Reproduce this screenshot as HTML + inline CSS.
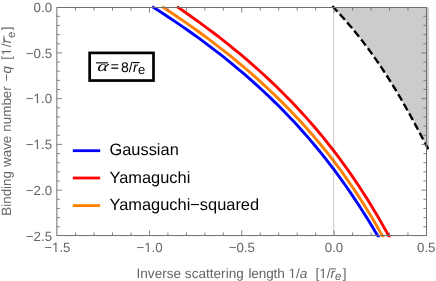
<!DOCTYPE html>
<html><head><meta charset="utf-8"><style>
html,body{margin:0;padding:0;background:#fff;}
svg{display:block;text-rendering:geometricPrecision;font-family:"Liberation Sans",sans-serif;}
</style></head><body>
<svg width="436" height="281" viewBox="0 0 436 281">
<rect width="436" height="281" fill="#fff"></rect>
<g opacity="0.999" style="will-change:transform">
<clipPath id="cf"><rect x="0" y="0" width="428.9" height="281"></rect></clipPath>
<path d="M333.65,7.50 L336.07,10.08 L338.46,12.67 L340.81,15.25 L343.12,17.84 L345.40,20.42 L347.65,23.01 L349.85,25.59 L352.03,28.18 L354.17,30.76 L356.28,33.35 L358.36,35.93 L360.40,38.52 L362.42,41.10 L364.40,43.69 L366.36,46.27 L368.29,48.86 L370.19,51.44 L372.06,54.03 L373.91,56.61 L375.73,59.19 L377.53,61.78 L379.30,64.36 L381.05,66.95 L382.77,69.53 L384.48,72.12 L386.16,74.70 L387.82,77.29 L389.46,79.87 L391.08,82.46 L392.68,85.04 L394.26,87.63 L395.83,90.21 L397.38,92.80 L398.91,95.38 L400.42,97.97 L401.92,100.55 L403.41,103.14 L404.89,105.72 L406.35,108.31 L407.79,110.89 L409.23,113.47 L410.66,116.06 L412.07,118.64 L413.48,121.23 L414.88,123.81 L416.26,126.40 L417.65,128.98 L419.02,131.57 L420.39,134.15 L421.75,136.74 L423.11,139.32 L424.46,141.91 L425.81,144.49 L427.16,147.08 L428.50,149.66 L429.85,152.25 L431.19,154.83 L432.53,157.42 L433.88,160.00 L432.50,160 L432.50,7.50 Z" fill="#cccccc" clip-path="url(#cf)"></path>
<clipPath id="cc"><rect x="0" y="0" width="436" height="237.35"></rect></clipPath>
<g fill="none" stroke-width="2.9" clip-path="url(#cc)">
<path d="M152.22,6.60 L158.41,10.55 L164.49,14.50 L170.47,18.44 L176.34,22.39 L182.11,26.34 L187.78,30.29 L193.34,34.24 L198.81,38.19 L204.18,42.13 L209.46,46.08 L214.64,50.03 L219.72,53.98 L224.72,57.93 L229.62,61.88 L234.44,65.82 L239.17,69.77 L243.81,73.72 L248.37,77.67 L252.84,81.62 L257.24,85.57 L261.55,89.51 L265.78,93.46 L269.94,97.41 L274.02,101.36 L278.02,105.31 L281.96,109.26 L285.82,113.20 L289.61,117.15 L293.33,121.10 L296.98,125.05 L300.57,129.00 L304.09,132.95 L307.55,136.89 L310.95,140.84 L314.28,144.79 L317.56,148.74 L320.78,152.69 L323.94,156.64 L327.05,160.58 L330.11,164.53 L333.11,168.48 L336.07,172.43 L338.97,176.38 L341.83,180.33 L344.64,184.27 L347.40,188.22 L350.12,192.17 L352.80,196.12 L355.44,200.07 L358.04,204.02 L360.61,207.96 L363.13,211.91 L365.62,215.86 L368.08,219.81 L370.51,223.76 L372.90,227.71 L375.27,231.65 L377.61,235.60 L379.92,239.55" stroke="#0000ff"></path>
<path d="M176.89,6.60 L182.66,10.55 L188.34,14.50 L193.93,18.44 L199.42,22.39 L204.81,26.34 L210.11,30.29 L215.32,34.24 L220.44,38.19 L225.47,42.13 L230.42,46.08 L235.27,50.03 L240.04,53.98 L244.73,57.93 L249.33,61.88 L253.86,65.82 L258.30,69.77 L262.66,73.72 L266.94,77.67 L271.15,81.62 L275.28,85.57 L279.34,89.51 L283.33,93.46 L287.24,97.41 L291.08,101.36 L294.86,105.31 L298.56,109.26 L302.20,113.20 L305.77,117.15 L309.28,121.10 L312.73,125.05 L316.11,129.00 L319.43,132.95 L322.70,136.89 L325.90,140.84 L329.05,144.79 L332.14,148.74 L335.18,152.69 L338.17,156.64 L341.10,160.58 L343.98,164.53 L346.81,168.48 L349.60,172.43 L352.33,176.38 L355.03,180.33 L357.67,184.27 L360.28,188.22 L362.84,192.17 L365.36,196.12 L367.84,200.07 L370.28,204.02 L372.69,207.96 L375.06,211.91 L377.39,215.86 L379.69,219.81 L381.96,223.76 L384.20,227.71 L386.41,231.65 L388.59,235.60 L390.74,239.55" stroke="#ff0000"></path>
<path d="M162.03,6.60 L168.05,10.55 L173.96,14.50 L179.78,18.44 L185.50,22.39 L191.12,26.34 L196.65,30.29 L202.08,34.24 L207.42,38.19 L212.67,42.13 L217.83,46.08 L222.90,50.03 L227.88,53.98 L232.77,57.93 L237.57,61.88 L242.30,65.82 L246.93,69.77 L251.49,73.72 L255.97,77.67 L260.36,81.62 L264.68,85.57 L268.92,89.51 L273.08,93.46 L277.17,97.41 L281.18,101.36 L285.12,105.31 L288.99,109.26 L292.79,113.20 L296.52,117.15 L300.18,121.10 L303.78,125.05 L307.31,129.00 L310.77,132.95 L314.18,136.89 L317.52,140.84 L320.80,144.79 L324.02,148.74 L327.18,152.69 L330.29,156.64 L333.34,160.58 L336.33,164.53 L339.27,168.48 L342.16,172.43 L345.00,176.38 L347.79,180.33 L350.53,184.27 L353.22,188.22 L355.87,192.17 L358.47,196.12 L361.03,200.07 L363.54,204.02 L366.02,207.96 L368.45,211.91 L370.84,215.86 L373.20,219.81 L375.52,223.76 L377.80,227.71 L380.05,231.65 L382.27,235.60 L384.46,239.55" stroke="#ff8000"></path>
</g>
<line x1="333.65" y1="7.50" x2="333.65" y2="235.55" stroke="#000" stroke-opacity="0.17" stroke-width="1.3"></line>
<path d="M332.32,6.10 L333.55,7.39 L334.77,8.69 L335.98,9.98 L337.18,11.27 L338.37,12.57 L339.55,13.86 L340.72,15.15 L341.88,16.45 L343.04,17.74 L344.18,19.03 L345.32,20.33 L346.44,21.62 L347.56,22.91 L348.67,24.21 L349.77,25.50 L350.87,26.79 L351.95,28.09 L353.03,29.38 L354.10,30.67 L355.16,31.97 L356.21,33.26 L357.25,34.55 L358.29,35.85 L359.32,37.14 L360.34,38.43 L361.35,39.73 L362.35,41.02 L363.35,42.31 L364.34,43.61 L365.33,44.90 L366.30,46.19 L367.27,47.48 L368.23,48.78 L369.19,50.07 L370.13,51.36 L371.08,52.66 L372.01,53.95 L372.94,55.24 L373.86,56.54 L374.77,57.83 L375.68,59.12 L376.58,60.42 L377.48,61.71 L378.37,63.00 L379.25,64.30 L380.13,65.59 L381.00,66.88 L381.87,68.18 L382.73,69.47 L383.59,70.76 L384.44,72.06 L385.28,73.35 L386.12,74.64 L386.95,75.94 L387.78,77.23 L388.60,78.52 L389.42,79.82 L390.24,81.11 L391.04,82.40 L391.85,83.70 L392.65,84.99 L393.44,86.28 L394.23,87.58 L395.02,88.87 L395.80,90.16 L396.57,91.46 L397.35,92.75 L398.12,94.04 L398.88,95.34 L399.64,96.63 L400.40,97.92 L401.15,99.22 L401.90,100.51 L402.65,101.80 L403.39,103.10 L404.13,104.39 L404.86,105.68 L405.60,106.98 L406.33,108.27 L407.05,109.56 L407.77,110.86 L408.50,112.15 L409.21,113.44 L409.93,114.74 L410.64,116.03 L411.35,117.32 L412.06,118.62 L412.76,119.91 L413.46,121.20 L414.16,122.49 L414.86,123.79 L415.56,125.08 L416.25,126.37 L416.94,127.67 L417.63,128.96 L418.32,130.25 L419.01,131.55 L419.69,132.84 L420.38,134.13 L421.06,135.43 L421.74,136.72 L422.42,138.01 L423.10,139.31 L423.78,140.60 L424.46,141.89 L425.13,143.19 L425.81,144.48 L426.48,145.77 L427.15,147.07 L427.83,148.36 L428.50,149.65 L429.17,150.95 L429.85,152.24 L430.52,153.53 L431.19,154.83 L431.86,156.12 L432.53,157.41 L433.20,158.71 L433.88,160.00" clip-path="url(#cf)" fill="none" stroke="#000" stroke-width="2.4" stroke-dasharray="7.5 3.53"></path>
<g stroke="#666" stroke-width="0.8">
<line x1="75.59" y1="235.55" x2="75.59" y2="232.45"></line>
<line x1="75.59" y1="7.50" x2="75.59" y2="10.60"></line>
<line x1="94.06" y1="235.55" x2="94.06" y2="232.45"></line>
<line x1="94.06" y1="7.50" x2="94.06" y2="10.60"></line>
<line x1="112.52" y1="235.55" x2="112.52" y2="232.45"></line>
<line x1="112.52" y1="7.50" x2="112.52" y2="10.60"></line>
<line x1="130.99" y1="235.55" x2="130.99" y2="232.45"></line>
<line x1="130.99" y1="7.50" x2="130.99" y2="10.60"></line>
<line x1="149.45" y1="235.55" x2="149.45" y2="230.35"></line>
<line x1="149.45" y1="7.50" x2="149.45" y2="12.70"></line>
<line x1="167.92" y1="235.55" x2="167.92" y2="232.45"></line>
<line x1="167.92" y1="7.50" x2="167.92" y2="10.60"></line>
<line x1="186.38" y1="235.55" x2="186.38" y2="232.45"></line>
<line x1="186.38" y1="7.50" x2="186.38" y2="10.60"></line>
<line x1="204.85" y1="235.55" x2="204.85" y2="232.45"></line>
<line x1="204.85" y1="7.50" x2="204.85" y2="10.60"></line>
<line x1="223.31" y1="235.55" x2="223.31" y2="232.45"></line>
<line x1="223.31" y1="7.50" x2="223.31" y2="10.60"></line>
<line x1="241.78" y1="235.55" x2="241.78" y2="230.35"></line>
<line x1="241.78" y1="7.50" x2="241.78" y2="12.70"></line>
<line x1="260.24" y1="235.55" x2="260.24" y2="232.45"></line>
<line x1="260.24" y1="7.50" x2="260.24" y2="10.60"></line>
<line x1="278.71" y1="235.55" x2="278.71" y2="232.45"></line>
<line x1="278.71" y1="7.50" x2="278.71" y2="10.60"></line>
<line x1="297.17" y1="235.55" x2="297.17" y2="232.45"></line>
<line x1="297.17" y1="7.50" x2="297.17" y2="10.60"></line>
<line x1="315.64" y1="235.55" x2="315.64" y2="232.45"></line>
<line x1="315.64" y1="7.50" x2="315.64" y2="10.60"></line>
<line x1="334.10" y1="235.55" x2="334.10" y2="230.35"></line>
<line x1="334.10" y1="7.50" x2="334.10" y2="12.70"></line>
<line x1="352.57" y1="235.55" x2="352.57" y2="232.45"></line>
<line x1="352.57" y1="7.50" x2="352.57" y2="10.60"></line>
<line x1="371.03" y1="235.55" x2="371.03" y2="232.45"></line>
<line x1="371.03" y1="7.50" x2="371.03" y2="10.60"></line>
<line x1="389.50" y1="235.55" x2="389.50" y2="232.45"></line>
<line x1="389.50" y1="7.50" x2="389.50" y2="10.60"></line>
<line x1="407.96" y1="235.55" x2="407.96" y2="232.45"></line>
<line x1="407.96" y1="7.50" x2="407.96" y2="10.60"></line>
<line x1="56.85" y1="16.30" x2="59.95" y2="16.30"></line>
<line x1="426.50" y1="16.30" x2="423.40" y2="16.30"></line>
<line x1="56.85" y1="25.45" x2="59.95" y2="25.45"></line>
<line x1="426.50" y1="25.45" x2="423.40" y2="25.45"></line>
<line x1="56.85" y1="34.60" x2="59.95" y2="34.60"></line>
<line x1="426.50" y1="34.60" x2="423.40" y2="34.60"></line>
<line x1="56.85" y1="43.75" x2="59.95" y2="43.75"></line>
<line x1="426.50" y1="43.75" x2="423.40" y2="43.75"></line>
<line x1="56.85" y1="52.90" x2="62.05" y2="52.90"></line>
<line x1="426.50" y1="52.90" x2="421.30" y2="52.90"></line>
<line x1="56.85" y1="62.05" x2="59.95" y2="62.05"></line>
<line x1="426.50" y1="62.05" x2="423.40" y2="62.05"></line>
<line x1="56.85" y1="71.20" x2="59.95" y2="71.20"></line>
<line x1="426.50" y1="71.20" x2="423.40" y2="71.20"></line>
<line x1="56.85" y1="80.35" x2="59.95" y2="80.35"></line>
<line x1="426.50" y1="80.35" x2="423.40" y2="80.35"></line>
<line x1="56.85" y1="89.50" x2="59.95" y2="89.50"></line>
<line x1="426.50" y1="89.50" x2="423.40" y2="89.50"></line>
<line x1="56.85" y1="98.65" x2="62.05" y2="98.65"></line>
<line x1="426.50" y1="98.65" x2="421.30" y2="98.65"></line>
<line x1="56.85" y1="107.80" x2="59.95" y2="107.80"></line>
<line x1="426.50" y1="107.80" x2="423.40" y2="107.80"></line>
<line x1="56.85" y1="116.95" x2="59.95" y2="116.95"></line>
<line x1="426.50" y1="116.95" x2="423.40" y2="116.95"></line>
<line x1="56.85" y1="126.10" x2="59.95" y2="126.10"></line>
<line x1="426.50" y1="126.10" x2="423.40" y2="126.10"></line>
<line x1="56.85" y1="135.25" x2="59.95" y2="135.25"></line>
<line x1="426.50" y1="135.25" x2="423.40" y2="135.25"></line>
<line x1="56.85" y1="144.40" x2="62.05" y2="144.40"></line>
<line x1="426.50" y1="144.40" x2="421.30" y2="144.40"></line>
<line x1="56.85" y1="153.55" x2="59.95" y2="153.55"></line>
<line x1="426.50" y1="153.55" x2="423.40" y2="153.55"></line>
<line x1="56.85" y1="162.70" x2="59.95" y2="162.70"></line>
<line x1="426.50" y1="162.70" x2="423.40" y2="162.70"></line>
<line x1="56.85" y1="171.85" x2="59.95" y2="171.85"></line>
<line x1="426.50" y1="171.85" x2="423.40" y2="171.85"></line>
<line x1="56.85" y1="181.00" x2="59.95" y2="181.00"></line>
<line x1="426.50" y1="181.00" x2="423.40" y2="181.00"></line>
<line x1="56.85" y1="190.15" x2="62.05" y2="190.15"></line>
<line x1="426.50" y1="190.15" x2="421.30" y2="190.15"></line>
<line x1="56.85" y1="199.30" x2="59.95" y2="199.30"></line>
<line x1="426.50" y1="199.30" x2="423.40" y2="199.30"></line>
<line x1="56.85" y1="208.45" x2="59.95" y2="208.45"></line>
<line x1="426.50" y1="208.45" x2="423.40" y2="208.45"></line>
<line x1="56.85" y1="217.60" x2="59.95" y2="217.60"></line>
<line x1="426.50" y1="217.60" x2="423.40" y2="217.60"></line>
<line x1="56.85" y1="226.75" x2="59.95" y2="226.75"></line>
<line x1="426.50" y1="226.75" x2="423.40" y2="226.75"></line>
</g>
<rect x="56.85" y="7.50" width="369.65" height="228.05" fill="none" stroke="#707070" stroke-width="1"></rect>
<g font-size="13.3" fill="#666">
<text x="57.35" y="252.0" text-anchor="middle">−1.5</text><rect x="56.59" y="250.56" width="2.63" height="1.89" fill="#fff"></rect><rect x="52.49" y="250.56" width="2.73" height="1.89" fill="#fff"></rect>
<text x="149.57" y="252.0" text-anchor="middle">−1.0</text><rect x="148.81" y="250.56" width="2.63" height="1.89" fill="#fff"></rect><rect x="144.71" y="250.56" width="2.73" height="1.89" fill="#fff"></rect>
<text x="241.80" y="252.0" text-anchor="middle">−0.5</text>
<text x="334.02" y="252.0" text-anchor="middle">0.0</text>
<text x="426.25" y="252.0" text-anchor="middle">0.5</text>
<text x="52.1" y="11.95" text-anchor="end">0.0</text>
<text x="52.1" y="57.70" text-anchor="end">−0.5</text>
<text x="52.1" y="103.45" text-anchor="end">−1.0</text><rect x="38.22" y="102.01" width="2.63" height="1.89" fill="#fff"></rect><rect x="34.11" y="102.01" width="2.73" height="1.89" fill="#fff"></rect>
<text x="52.1" y="149.20" text-anchor="end">−1.5</text><rect x="38.22" y="147.76" width="2.63" height="1.89" fill="#fff"></rect><rect x="34.11" y="147.76" width="2.73" height="1.89" fill="#fff"></rect>
<text x="52.1" y="194.95" text-anchor="end">−2.0</text>
<text x="52.1" y="240.70" text-anchor="end">−2.5</text>
<g font-size="13.6">
<text id="xl" x="136.5" y="278.2" xml:space="preserve">Inverse scattering</text>
<text x="248.5" y="278.2" textLength="36.2" lengthAdjust="spacing">length</text>
<text x="288.5" y="278.2">1/<tspan font-style="italic">a</tspan></text><rect x="293.22" y="276.73" width="2.68" height="1.92" fill="#fff"></rect><rect x="289.04" y="276.73" width="2.78" height="1.92" fill="#fff"></rect>
<text x="315.4" y="278.2">[1/<tspan font-style="italic">r</tspan><tspan font-style="italic" font-size="11.5" dy="1.7">e</tspan></text><rect x="323.89" y="276.73" width="2.68" height="1.92" fill="#fff"></rect><rect x="319.70" y="276.73" width="2.78" height="1.92" fill="#fff"></rect>
<text x="342.8" y="278.2">]</text>
<line id="xlbar" x1="330.6" y1="268.9" x2="336.0" y2="268.9" stroke="#666" stroke-width="1"></line>
</g>
<g font-size="13.4" transform="translate(11.4,215.7) rotate(-90)">
<text id="yl" x="0" y="0" word-spacing="0.35" xml:space="preserve">Binding wave number</text>
<text x="134.1" y="0">−</text>
<text x="142.2" y="0" font-style="italic">q</text>
<text id="yl2" x="156.0" y="0" letter-spacing="0.6">[1/</text><rect x="164.97" y="-1.45" width="2.64" height="1.90" fill="#fff"></rect><rect x="160.83" y="-1.45" width="2.75" height="1.90" fill="#fff"></rect>
<text x="172.5" y="0" font-style="italic">r</text>
<text x="177.8" y="3.2" font-size="11.6">e</text>
<text x="185.4" y="0">]</text>
<line id="ylbar" x1="172.3" y1="-7.5" x2="180.1" y2="-7.5" stroke="#666" stroke-width="1"></line>
</g>
</g>
<!-- annotation -->
<rect x="89.65" y="52.9" width="63.85" height="27.65" fill="#fff" stroke="#000" stroke-width="2.7"></rect>
<g font-size="14" fill="#000">
<text transform="translate(96.9,71.3) skewX(-8) scale(1.38,1)" x="0" y="0" font-family="Liberation Serif" font-style="italic" font-size="15">α</text>
<text x="110.8" y="71.3" font-size="13.8" stroke="#000" stroke-width="0.15">=</text>
<text x="120.9" y="71.5">8/</text>
<text x="133.0" y="71.5" font-style="italic">r</text>
<text x="138.0" y="73.9" font-size="13">e</text>
<line x1="95.9" y1="62.85" x2="108.1" y2="62.85" stroke="#000" stroke-width="1.1"></line>
<line x1="132.7" y1="62.55" x2="139.6" y2="62.55" stroke="#000" stroke-width="1.1"></line>
</g>
<!-- legend -->
<g stroke-width="2.8">
<line x1="72.8" y1="150.7" x2="100.2" y2="150.7" stroke="#0000ff"></line>
<line x1="72.8" y1="178.0" x2="100.2" y2="178.0" stroke="#ff0000"></line>
<line x1="72.8" y1="205.6" x2="100.2" y2="205.6" stroke="#ff8000"></line>
</g>
<g font-size="16.4" fill="#000">
<text x="109.5" y="155.0">Gaussian</text>
<text x="109.5" y="182.6">Yamaguchi</text>
<text x="109.5" y="209.7">Yamaguchi−squared</text>
</g>
</g>
</svg>
</body></html>
